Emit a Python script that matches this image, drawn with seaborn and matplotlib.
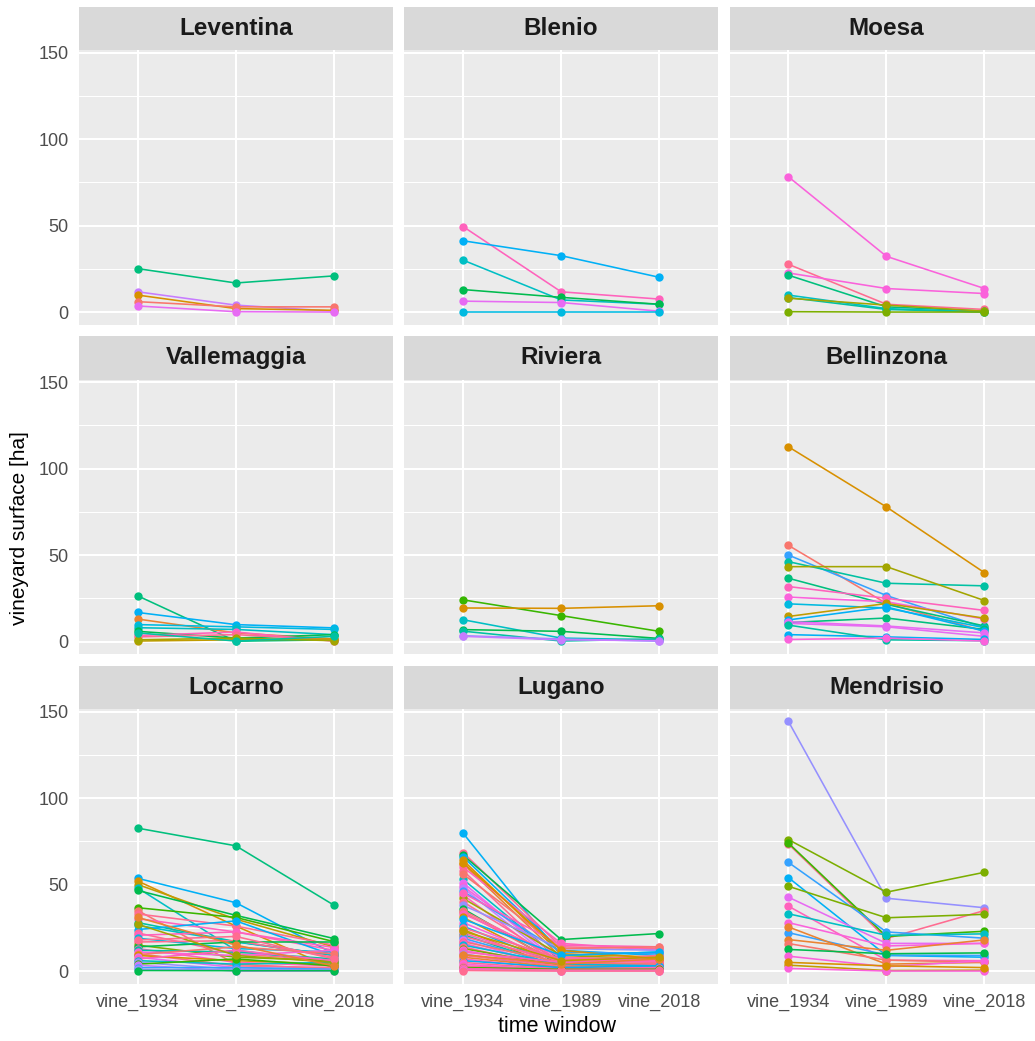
import numpy as np
import pandas as pd
import seaborn as sns
import matplotlib.pyplot as plt
from matplotlib.patches import Rectangle

# ggplot-like hue palette (20 steps)
hue20 = ["#F8766D", "#EA8331", "#D89000", "#C09B00", "#A3A500", "#7CAE00", "#39B600",
         "#00BB4E", "#00BF7D", "#00C1A3", "#00BFC4", "#00BAE0", "#00B0F6", "#35A2FF",
         "#9590FF", "#C77CFF", "#E76BF3", "#FA62DB", "#FF62BC", "#FF6C91"]

windows = ["vine_1934", "vine_1989", "vine_2018"]
districts = ["Leventina", "Blenio", "Moesa", "Vallemaggia", "Riviera", "Bellinzona",
             "Locarno", "Lugano", "Mendrisio"]

# per district: values in 1934, 1989, 2018 and colour index of each municipality
leventina_1934 = [25.1, 11.7, 9.8, 6.0, 3.5]
leventina_1989 = [16.8, 4.0, 2.0, 3.0, 0.2]
leventina_2018 = [20.9, 0.5, 1.0, 3.0, 0.0]
leventina_col = [8, 15, 2, 0, 16]

blenio_1934 = [49.4, 41.2, 30.0, 13.0, 6.3, 0.0]
blenio_1989 = [11.7, 32.6, 7.0, 8.5, 5.5, 0.0]
blenio_2018 = [7.5, 20.1, 4.5, 4.5, 0.5, 0.0]
blenio_col = [18, 12, 10, 7, 16, 11]

moesa_1934 = [78.2, 27.6, 22.6, 21.3, 9.8, 8.4, 8.0, 0.2]
moesa_1989 = [32.2, 4.5, 13.6, 3.0, 2.0, 1.5, 4.0, 0.0]
moesa_2018 = [13.6, 1.5, 10.7, 0.5, 0.0, 0.0, 0.5, 0.0]
moesa_col = [17, 19, 17, 8, 10, 9, 4, 5]

vallemaggia_1934 = [26.4, 16.8, 13.0, 9.8, 8.0, 5.9, 3.5, 2.7, 0.3, 1.0, 5.0]
vallemaggia_1989 = [0.2, 9.8, 5.0, 8.5, 7.0, 2.0, 5.5, 4.0, 1.0, 2.0, 0.3]
vallemaggia_2018 = [1.0, 7.9, 1.5, 7.0, 4.0, 4.0, 0.2, 1.0, 1.5, 0.5, 3.0]
vallemaggia_col = [8, 12, 1, 11, 10, 7, 18, 19, 3, 4, 9]

riviera_1934 = [24.1, 19.4, 12.6, 6.9, 6.0, 3.4, 3.0]
riviera_1989 = [15.0, 19.2, 2.0, 5.9, 0.3, 1.5, 1.0]
riviera_2018 = [5.9, 20.7, 1.0, 1.8, 1.5, 0.2, 0.5]
riviera_col = [6, 2, 10, 7, 9, 14, 15]

bellinzona_1934 = [112.6, 55.6, 50.0, 46.2, 43.3, 36.6, 31.8, 25.7, 21.8, 14.5, 11.0,
                   12.5, 11.5, 10.5, 4.0, 9.5, 1.2]
bellinzona_1989 = [77.8, 22.0, 26.6, 33.7, 43.3, 21.5, 25.0, 23.0, 19.4, 22.0, 13.6,
                   20.0, 9.0, 8.5, 2.7, 1.0, 2.0]
bellinzona_2018 = [39.8, 6.0, 8.0, 32.2, 23.7, 9.0, 18.0, 13.0, 8.0, 13.5, 7.0,
                   6.0, 5.0, 3.0, 1.2, 0.5, 0.3]
bellinzona_col = [2, 0, 13, 9, 4, 8, 18, 17, 11, 3, 8, 12, 16, 16, 12, 9, 17]

locarno_1934 = [82.6, 53.6, 52.0, 50.0, 48.0, 46.6, 36.6, 35.0, 33.0, 30.3, 28.0, 26.4,
                24.0, 22.0, 20.7, 19.0, 16.8, 15.0, 14.0, 13.0, 12.0, 11.0, 10.0, 9.5,
                9.0, 8.0, 7.0, 6.0, 5.0, 4.0, 3.4, 2.0, 1.0, 0.3, 27.0, 18.0, 31.0]
locarno_1989 = [72.4, 39.5, 26.0, 30.0, 12.0, 32.2, 31.0, 4.0, 26.0, 22.6, 17.0, 16.8,
                29.0, 10.0, 22.6, 13.0, 17.6, 8.0, 16.8, 5.0, 11.0, 9.0, 3.0, 14.0,
                6.0, 2.0, 12.0, 4.0, 1.0, 7.0, 0.0, 2.0, 0.5, 0.2, 9.0, 20.0, 15.0]
locarno_2018 = [38.1, 10.0, 1.5, 14.0, 5.0, 18.8, 17.0, 1.0, 15.0, 12.0, 9.0, 9.2,
                9.0, 6.0, 13.6, 11.0, 8.0, 6.0, 16.8, 3.0, 7.0, 12.0, 2.0, 10.0,
                4.0, 1.0, 6.0, 5.0, 0.5, 3.0, 0.0, 1.0, 0.5, 0.2, 5.0, 7.0, 3.0]
locarno_col = [8, 12, 2, 3, 10, 7, 6, 0, 19, 18, 9, 10, 12, 19, 18, 11, 19, 5, 7, 18,
               9, 17, 19, 0, 2, 16, 18, 10, 14, 6, 15, 13, 14, 7, 4, 19, 1]

lugano_1934 = [79.7, 68.5, 67.0, 66.0, 64.0, 62.0, 60.0, 58.0, 53.0, 51.0, 49.0, 48.0,
               46.0, 44.0, 42.0, 40.0, 38.0, 36.0, 35.0, 34.0, 33.0, 31.0, 28.0, 26.0,
               25.0, 24.0, 22.0, 21.0, 20.0, 19.0, 18.0, 17.0, 16.0, 15.0, 14.0, 13.0,
               12.0, 11.0, 10.0, 9.0, 8.0, 7.0, 6.0, 5.0, 4.0, 3.0, 2.5, 2.0, 1.5, 1.0,
               0.5, 0.3, 45.0, 56.0, 62.5, 30.0, 9.5, 23.0]
lugano_1989 = [9.0, 14.0, 18.2, 12.0, 10.0, 8.0, 16.0, 5.0, 6.0, 4.0, 7.0, 3.0,
               11.0, 2.0, 9.0, 5.0, 13.0, 3.0, 6.0, 4.0, 8.0, 2.0, 5.0, 3.0,
               7.0, 1.0, 4.0, 2.0, 6.0, 3.0, 1.0, 5.0, 2.0, 4.0, 1.0, 3.0,
               2.0, 5.0, 1.0, 3.0, 2.0, 1.0, 2.0, 1.0, 0.5, 1.0, 0.5, 1.0, 0.3, 0.5,
               0.2, 0.0, 15.0, 13.0, 12.0, 9.0, 4.0, 6.0]
lugano_2018 = [11.0, 13.0, 21.7, 9.0, 8.0, 6.0, 12.0, 4.0, 3.0, 2.0, 5.0, 1.0,
               10.0, 1.0, 7.0, 3.0, 12.0, 2.0, 9.0, 3.0, 6.0, 1.0, 4.0, 2.0,
               6.0, 1.0, 8.0, 1.0, 5.0, 3.0, 0.5, 4.0, 2.0, 3.0, 1.0, 2.0,
               1.0, 6.0, 1.0, 2.0, 2.0, 1.0, 3.0, 1.0, 0.5, 2.0, 0.5, 1.0, 0.3, 0.5,
               0.2, 0.0, 14.0, 14.0, 7.0, 11.0, 7.0, 8.0]
lugano_col = [12, 19, 7, 12, 2, 1, 18, 19, 10, 16, 17, 15, 13, 18, 4, 19, 14, 7, 19, 0,
              18, 2, 17, 12, 19, 3, 18, 9, 19, 13, 16, 0, 18, 11, 19, 5, 17, 18, 14, 19,
              1, 18, 12, 19, 17, 18, 19, 6, 18, 19, 16, 19, 18, 0, 2, 12, 1, 3]

mendrisio_1934 = [144.3, 76.0, 73.4, 74.0, 62.8, 54.0, 49.0, 42.7, 37.5, 33.1, 28.0,
                  22.2, 25.5, 18.2, 15.9, 12.5, 8.6, 3.4, 1.5, 5.0]
mendrisio_1989 = [42.1, 45.6, 18.8, 20.0, 22.6, 9.0, 30.8, 16.0, 6.3, 20.7, 14.5,
                  9.2, 4.0, 12.0, 6.3, 10.0, 2.5, 0.3, 0.0, 3.0]
mendrisio_2018 = [36.6, 57.1, 35.0, 23.0, 19.0, 8.0, 32.8, 16.0, 6.0, 21.5, 16.0,
                  9.0, 5.0, 18.0, 5.0, 10.5, 6.0, 0.5, 0.0, 2.0]
mendrisio_col = [14, 5, 19, 6, 13, 12, 5, 16, 18, 10, 17, 13, 1, 1, 0, 7, 17, 3, 17, 2]

data = {
    "Leventina": (leventina_1934, leventina_1989, leventina_2018, leventina_col),
    "Blenio": (blenio_1934, blenio_1989, blenio_2018, blenio_col),
    "Moesa": (moesa_1934, moesa_1989, moesa_2018, moesa_col),
    "Vallemaggia": (vallemaggia_1934, vallemaggia_1989, vallemaggia_2018, vallemaggia_col),
    "Riviera": (riviera_1934, riviera_1989, riviera_2018, riviera_col),
    "Bellinzona": (bellinzona_1934, bellinzona_1989, bellinzona_2018, bellinzona_col),
    "Locarno": (locarno_1934, locarno_1989, locarno_2018, locarno_col),
    "Lugano": (lugano_1934, lugano_1989, lugano_2018, lugano_col),
    "Mendrisio": (mendrisio_1934, mendrisio_1989, mendrisio_2018, mendrisio_col),
}

rows = []
palette = {}
for d in districts:
    v34, v89, v18, cols = data[d]
    for i in range(len(v34)):
        muni = f"{d}_{i}"
        palette[muni] = hue20[cols[i]]
        for w, v in zip(windows, (v34[i], v89[i], v18[i])):
            rows.append((d, muni, w, v))
df = pd.DataFrame(rows, columns=["district", "muni", "window", "surface"])

sns.set_theme(style="darkgrid")
plt.rcParams['font.family'] = ['Liberation Sans', 'DejaVu Sans']

W, H = 1035, 1041
fig = plt.figure(figsize=(W / 100, H / 100), dpi=100)

pw, ph = 313.7, 274.5
lefts = [79, 404.3, 729.6]
tops = [50, 379.5, 709]
strip_h = 43.5

for k, d in enumerate(districts):
    r, c = divmod(k, 3)
    ax = fig.add_axes([lefts[c] / W, 1 - (tops[r] + ph) / H, pw / W, ph / H])
    ax.set_facecolor("#EBEBEB")
    sub = df[df["district"] == d]
    sns.lineplot(data=sub, x="window", y="surface", hue="muni", palette=palette,
                 marker="o", markersize=6, markeredgewidth=0, linewidth=1.15,
                 legend=False, errorbar=None, ax=ax)
    ax.set_xlim(-0.6, 2.6)
    ax.set_ylim(-7.2, 151.5)
    ax.set_yticks([0, 50, 100, 150])
    ax.set_yticks([25, 75, 125], minor=True)
    ax.set_xticks([0, 1, 2])
    ax.grid(which="major", color="white", linewidth=1.5)
    ax.grid(which="minor", axis="y", color="white", linewidth=0.75)
    ax.set_axisbelow(True)
    for s in ax.spines.values():
        s.set_visible(False)
    ax.set_xlabel("")
    ax.set_ylabel("")
    ax.tick_params(axis="both", which="major", length=3.6, width=1.1, color="#333333",
                   labelsize=13, labelcolor="#4D4D4D", pad=4)
    ax.tick_params(axis="y", which="minor", length=0)
    if c != 0:
        ax.tick_params(axis="y", which="major", left=False, labelleft=False)
    if r != 2:
        ax.tick_params(axis="x", which="major", bottom=False, labelbottom=False)
    else:
        ax.set_xticklabels(windows)
    ax.add_patch(Rectangle((0, 1), 1, strip_h / ph, transform=ax.transAxes,
                           facecolor="#D9D9D9", edgecolor="none", clip_on=False))
    ax.text(0.5, 1 + strip_h / ph / 2, d, transform=ax.transAxes, ha="center",
            va="center", fontsize=17.5, fontweight="bold", color="#1A1A1A")

fig.text(20 / W, 1 - 528 / H, "vineyard surface [ha]", rotation=90, ha="center",
         va="center", fontsize=15, color="black")
fig.text(557 / W, 1 - 1027 / H, "time window", ha="center", va="center",
         fontsize=15.5, color="black")

fig.savefig("out.png", dpi=100, facecolor="white")
